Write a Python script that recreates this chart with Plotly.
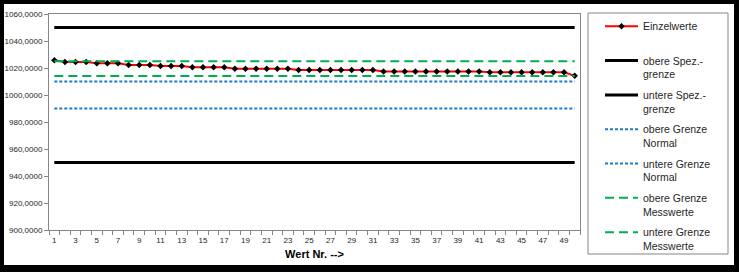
import plotly.graph_objects as go

# ---------------- data ----------------
wert_nr = list(range(1, 51))
einzelwerte = [
    1025.8, 1024.5, 1024.5, 1024.5, 1023.5, 1023.5, 1023.5, 1022.3, 1022.3, 1022.3,
    1021.5, 1021.5, 1021.5, 1020.5, 1020.5, 1020.5, 1020.5, 1019.5, 1019.5, 1019.5,
    1019.5, 1019.5, 1019.5, 1018.5, 1018.5, 1018.5, 1018.5, 1018.5, 1018.5, 1018.5,
    1018.5, 1017.5, 1017.5, 1017.5, 1017.5, 1017.5, 1017.5, 1017.5, 1017.5, 1017.5,
    1017.5, 1016.8, 1016.8, 1016.8, 1016.8, 1016.8, 1016.8, 1016.8, 1016.8, 1014.2,
]
obere_spez = 1050.0
untere_spez = 950.0
obere_normal = 1010.0
untere_normal = 990.0
obere_mess = 1025.0
untere_mess = 1014.0

x_tickvals = [1, 3, 5, 7, 9, 11, 13, 15, 17, 19, 21, 23, 25, 27, 29, 31, 33, 35, 37, 39, 41, 43, 45, 47, 49]
x_ticktext = [str(v) for v in x_tickvals]

# ---------------- layout geometry ----------------
W, H = 739, 272
ML, MR, MT, MB = 49, 159, 14, 42
PW, PH = W - ML - MR, H - MT - MB


def px(xp):
    return (xp - ML) / PW


def py(yp):
    return (H - MB - yp) / PH


FONT = "Liberation Sans, Arial, sans-serif"
GREY = "#868686"

fig = go.Figure()

n = len(wert_nr)
fig.add_trace(go.Scatter(
    x=wert_nr, y=einzelwerte, name="Einzelwerte<br>\u00a0", legendgroup="g1",
    mode="lines+markers",
    line=dict(color="#FF0000", width=2),
    marker=dict(symbol="diamond", size=5, color="#000000"),
))
limits = [
    ("obere Spez.-<br>grenze", obere_spez, dict(color="#000000", width=3)),
    ("untere Spez.-<br>grenze", untere_spez, dict(color="#000000", width=3)),
    ("obere Grenze<br>Normal", obere_normal, dict(color="#1F7AD2", width=2, dash="3px,2px")),
    ("untere Grenze<br>Normal", untere_normal, dict(color="#1F7AD2", width=2, dash="3px,2px")),
    ("obere Grenze<br>Messwerte", obere_mess, dict(color="#00B050", width=2, dash="9px,5px")),
    ("untere Grenze<br>Messwerte", untere_mess, dict(color="#00B050", width=2, dash="9px,5px")),
]
for i, (name, val, ln) in enumerate(limits):
    fig.add_trace(go.Scatter(
        x=wert_nr, y=[val] * n, name=name, legendgroup=f"g{i+2}",
        mode="lines", line=ln,
    ))

shapes = [
    # outer black frame
    dict(type="rect", xref="paper", yref="paper", x0=px(0), x1=px(W), y0=py(H), y1=py(0),
         fillcolor="#000000", line=dict(width=0), layer="below"),
    dict(type="rect", xref="paper", yref="paper", x0=px(4), x1=px(734), y0=py(265), y1=py(4),
         fillcolor="#FFFFFF", line=dict(width=0), layer="below"),
    # legend box
    dict(type="rect", xref="paper", yref="paper", x0=px(588), x1=px(728), y0=py(254), y1=py(13),
         fillcolor="rgba(0,0,0,0)", line=dict(color=GREY, width=1), layer="below"),
]

fig.update_layout(
    width=W, height=H,
    margin=dict(l=ML, r=MR, t=MT, b=MB, pad=0, autoexpand=False),
    paper_bgcolor="#FFFFFF", plot_bgcolor="#FFFFFF",
    separators=",.",
    font=dict(family=FONT, color="#262626"),
    showlegend=True,
    legend=dict(
        x=px(600), xanchor="left",
        y=py(13), yanchor="top",
        maxheight=260,
        bgcolor="rgba(0,0,0,0)", borderwidth=0,
        font=dict(family=FONT, size=10.5, color="#262626"),
        valign="top", tracegroupgap=4, itemwidth=33,
        traceorder="grouped",
    ),
    shapes=shapes,
    xaxis=dict(
        range=[0.5, 50.5], showgrid=False, zeroline=False,
        showline=True, linecolor=GREY, linewidth=1, mirror=True,
        tickmode="array", tickvals=x_tickvals, ticktext=x_ticktext,
        ticks="", ticklabelstandoff=2,
        tickfont=dict(family=FONT, size=8, color="#262626"),
        minor=dict(ticks="outside", tick0=0.5, dtick=1, ticklen=4, tickcolor=GREY, showgrid=False),
        title=dict(text="<b>Wert Nr. --></b>", font=dict(family=FONT, size=11, color="#000000"), standoff=6),
    ),
    yaxis=dict(
        range=[900, 1060], dtick=20, tick0=900, showgrid=False, zeroline=False,
        showline=True, linecolor=GREY, linewidth=1, mirror=True,
        ticks="outside", ticklen=4, tickcolor=GREY,
        tickformat=".4f",
        tickfont=dict(family=FONT, size=8, color="#262626"),
    ),
)

fig.write_html("out.html")
